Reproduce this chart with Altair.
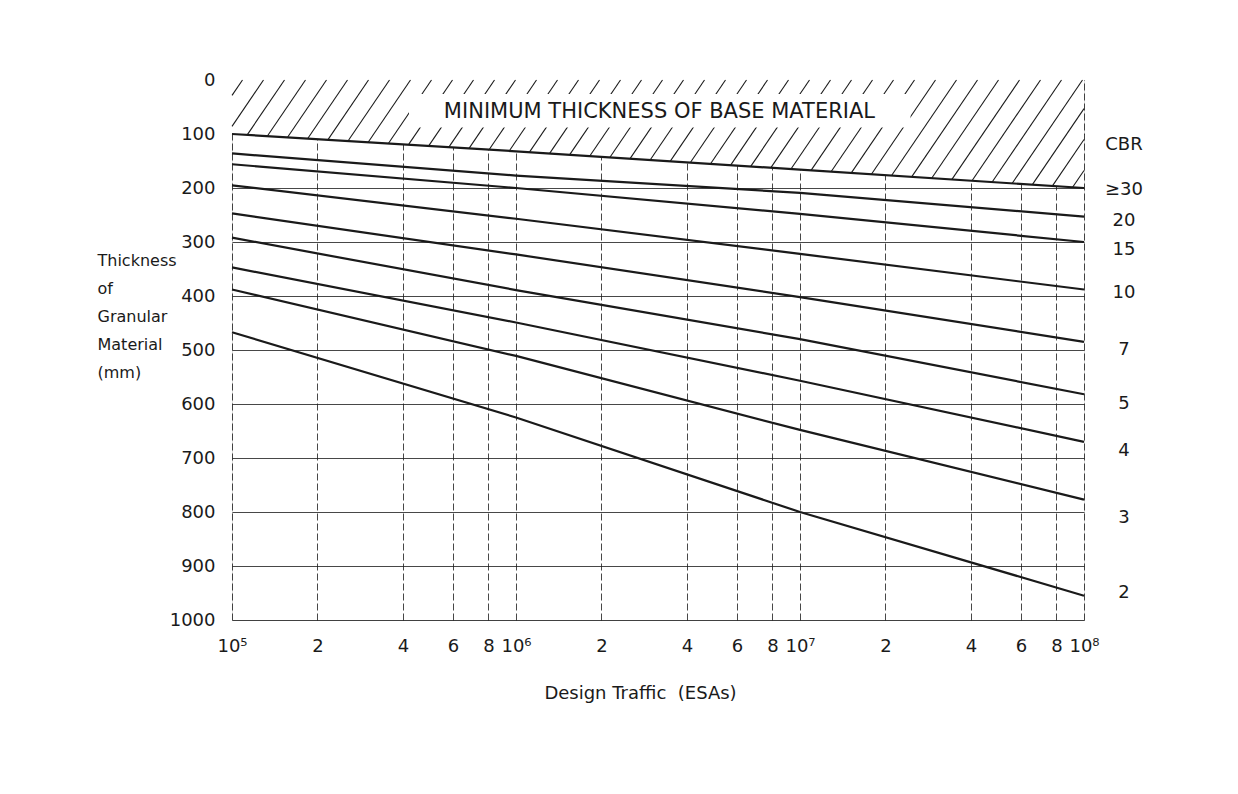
import altair as alt
import numpy as np
import pandas as pd

# ---------------- data ----------------
traffic = [1e5, 1e6, 1e7, 1e8]          # design traffic (ESAs)
cbr_30 = [100, 132, 166, 200]           # CBR >= 30 (also limit of hatched zone)
cbr_20 = [136, 177, 209, 253]
cbr_15 = [156, 200, 248, 300]
cbr_10 = [195, 257, 322, 388]
cbr_7 = [247, 323, 402, 485]
cbr_5 = [292, 389, 480, 582]
cbr_4 = [347, 449, 557, 670]
cbr_3 = [388, 511, 648, 777]
cbr_2 = [467, 625, 800, 955]

cbr_names = ["≥30", "20", "15", "10", "7", "5", "4", "3", "2"]
label_y = [204, 261, 315, 394, 500, 600, 687, 811, 950]

x_ticks = [1e5, 2e5, 4e5, 6e5, 8e5, 1e6, 2e6, 4e6, 6e6, 8e6,
           1e7, 2e7, 4e7, 6e7, 8e7, 1e8]
x_tick_labels = ["10⁵", "2", "4", "6", "8", "10⁶", "2", "4", "6", "8",
                 "10⁷", "2", "4", "6", "8", "10⁸"]
y_ticks = [0, 100, 200, 300, 400, 500, 600, 700, 800, 900, 1000]

W, H = 852, 540
FONT = "DejaVu Sans"
INK = "#1a1a1a"

series = [cbr_30, cbr_20, cbr_15, cbr_10, cbr_7, cbr_5, cbr_4, cbr_3, cbr_2]
rows = []
for name, vals in zip(cbr_names, series):
    for t, v in zip(traffic, vals):
        rows.append({"cbr": name, "traffic": t, "thickness": v})
curves = pd.DataFrame(rows)

# hatched zone (from 0 down to the CBR>=30 line)
zone = pd.DataFrame({"traffic": traffic, "top": [0] * len(traffic), "bottom": cbr_30})

# hatch lines: diagonal strokes clipped to the zone
lx = (np.log10(traffic) - 5) / 3 * W
ly = np.array(cbr_30) / 1000 * H
k, step = 0.68, 21.0
hatch = []
for c in np.arange(step / 2, W + k * ly.max() + step, step):
    p0 = max(0.0, (c - W) / k)
    pys = np.linspace(p0, H, 4000)
    pxs = c - k * pys
    inside = (pxs >= 0) & (pxs <= W) & (pys <= np.interp(pxs, lx, ly))
    if not inside[0]:
        continue
    idx = np.argmax(~inside) - 1 if (~inside).any() else len(pys) - 1
    if idx <= 0:
        continue
    x1, y1, x2, y2 = pxs[0], pys[0], pxs[idx], pys[idx]
    hatch.append({
        "xa": 10 ** (5 + 3 * x1 / W), "ya": y1 / H * 1000,
        "xb": 10 ** (5 + 3 * x2 / W), "yb": y2 / H * 1000,
    })
hatch = pd.DataFrame(hatch)

banner = pd.DataFrame({"traffic": [3.2e6], "thickness": [59],
                       "text": ["MINIMUM THICKNESS OF BASE MATERIAL"]})
# white band behind the banner text (clears the hatching)
band = pd.DataFrame({"xa": [4.2e5], "xb": [2.45e7], "ya": [26], "yb": [88]})

right_labels = pd.DataFrame({"traffic": [1e8] * (len(cbr_names) + 1),
                             "thickness": [120] + label_y,
                             "text": ["CBR"] + cbr_names})

label_expr = " : ".join(
    f"datum.value == {int(v)} ? '{l}'" for v, l in zip(x_ticks, x_tick_labels)
) + " : ''"

xscale = alt.Scale(type="log", domain=[1e5, 1e8], nice=False)
yscale = alt.Scale(domain=[0, 1000], reverse=True, nice=False)

xaxis = alt.Axis(values=x_ticks, labelExpr=label_expr, grid=True, gridDash=[7, 3],
                 gridColor=INK, gridWidth=1, gridOpacity=0.8, ticks=False, domain=False,
                 labelFontSize=18, labelFont=FONT, labelColor=INK, labelPadding=17,
                 title="Design Traffic\u00a0\u00a0(ESAs)", titleFont=FONT, titleFontSize=18,
                 titleFontWeight="normal", titleColor=INK, titleX=408, titleY=64,
                 labelFlush=False)
yaxis = alt.Axis(values=y_ticks, format="d", grid=True, gridColor=INK, gridWidth=1,
                 gridOpacity=0.8, ticks=False, domain=False, labelFontSize=18,
                 labelFont=FONT, labelColor=INK, labelPadding=17,
                 title=["Thickness", "of", "Granular", "Material", "(mm)"],
                 titleAngle=0, titleAlign="left", titleBaseline="top",
                 titleX=-135, titleY=172, titleFont=FONT, titleFontSize=16,
                 titleFontWeight="normal", titleColor=INK, titleLineHeight=28,
                 labelFlush=False)

base_axes = alt.Chart(curves).mark_line(opacity=0).encode(
    x=alt.X("traffic:Q", scale=xscale, axis=xaxis),
    y=alt.Y("thickness:Q", scale=yscale, axis=yaxis),
    detail="cbr:N",
)

zone_layer = alt.Chart(zone).mark_area(color="white", opacity=1).encode(
    x=alt.X("traffic:Q", scale=xscale),
    y=alt.Y("top:Q", scale=yscale),
    y2="bottom:Q",
)

hatch_layer = alt.Chart(hatch).mark_rule(color=INK, strokeWidth=1.1).encode(
    x=alt.X("xa:Q", scale=xscale), y=alt.Y("ya:Q", scale=yscale),
    x2="xb:Q", y2="yb:Q",
)

band_layer = alt.Chart(band).mark_rect(color="white", opacity=1).encode(
    x=alt.X("xa:Q", scale=xscale), x2="xb:Q",
    y=alt.Y("ya:Q", scale=yscale), y2="yb:Q",
)

banner_text = alt.Chart(banner).mark_text(font=FONT, fontSize=21, color=INK).encode(
    x=alt.X("traffic:Q", scale=xscale), y=alt.Y("thickness:Q", scale=yscale),
    text="text:N",
)

lines = alt.Chart(curves).mark_line(color=INK, strokeWidth=2.2).encode(
    x=alt.X("traffic:Q", scale=xscale),
    y=alt.Y("thickness:Q", scale=yscale),
    detail="cbr:N",
)

labels = alt.Chart(right_labels).mark_text(font=FONT, fontSize=18, color=INK,
                                           align="center", dx=40, clip=False).encode(
    x=alt.X("traffic:Q", scale=xscale),
    y=alt.Y("thickness:Q", scale=yscale),
    text="text:N",
)

chart = alt.layer(base_axes, zone_layer, hatch_layer, band_layer, banner_text,
                  lines, labels).properties(
    width=W, height=H,
    autosize=alt.AutoSizeParams(type="none"),
    padding={"left": 224, "top": 72, "right": 146, "bottom": 166},
).configure_view(stroke=INK, strokeWidth=1.6).configure(background="white")

chart.save("out.html", embed_options={"renderer": "svg", "actions": False})
